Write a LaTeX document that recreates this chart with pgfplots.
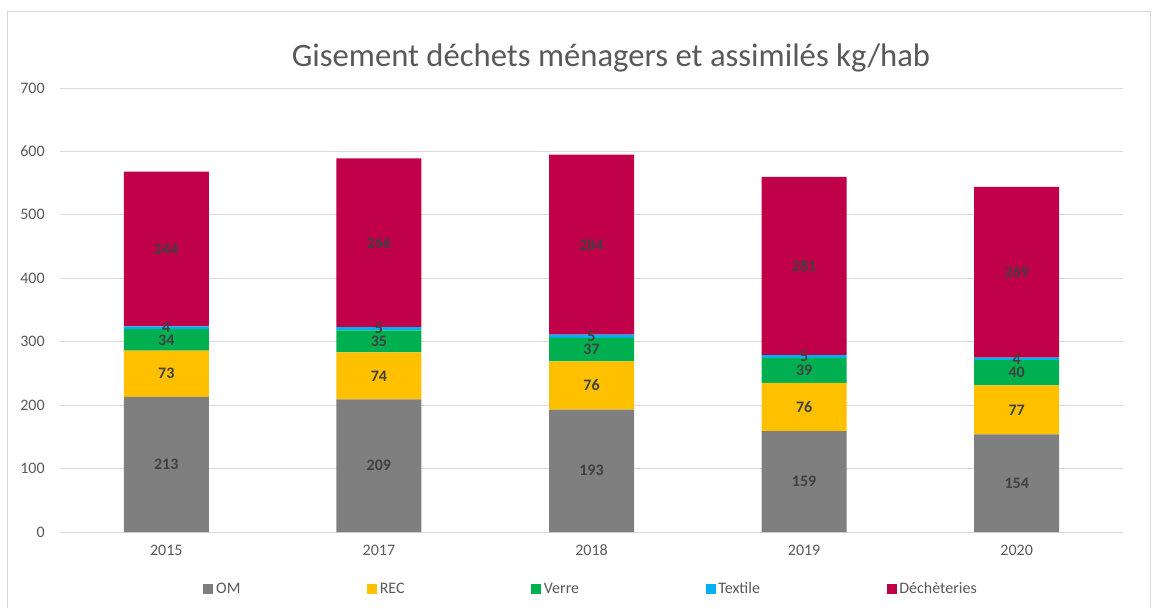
\documentclass[border=0pt]{standalone}
\usepackage{pgfplots}
\usepackage{pgfplotstable}
\pgfplotsset{compat=1.18}
\usepackage{fontspec}
\setmainfont{Carlito}
\definecolor{omgray}{HTML}{7F7F7F}
\definecolor{recyel}{HTML}{FFC000}
\definecolor{verregr}{HTML}{00B050}
\definecolor{textbl}{HTML}{00B0F0}
\definecolor{dechred}{HTML}{C00048}
\definecolor{gridc}{HTML}{D9D9D9}
\definecolor{tickc}{HTML}{595959}
\definecolor{labc}{HTML}{404040}
\pgfplotstableread{
x om rec verre textile dech
0 213 73 34 4 244
1 209 74 35 5 266
2 193 76 37 5 284
3 159 76 39 5 281
4 154 77 40 4 269
}\data
\begin{document}
\begin{tikzpicture}
\begin{axis}[
  width=797.25pt, height=333pt, scale only axis,
  ybar stacked, bar width=63.75pt,
  xmin=-0.5, xmax=4.5, ymin=0, ymax=700,
  xtick={0,1,2,3,4}, xticklabels={2015,2017,2018,2019,2020},
  ytick={0,100,...,700},
  ymajorgrids, major grid style={gridc, line width=0.75pt},
  axis x line*=bottom, axis y line*=left,
  x axis line style={-, gridc, line width=0.75pt},
  y axis line style={-, draw=none},
  tick style={draw=none},
  ticklabel style={font=\fontsize{12}{14}\selectfont, text=tickc},
  /pgf/number format/assume math mode=true,
  yticklabel style={xshift=-8pt},
  xticklabel style={yshift=-6pt},
  point meta=explicit,
  nodes near coords,
  nodes near coords align=center,
  every node near coord/.append style={
    font=\bfseries\fontsize{12}{14}\selectfont, text=labc, anchor=center},
  legend columns=5,
  legend style={draw=none, at={(0.5,-0.1284)}, anchor=center,
    font=\fontsize{12}{14}\selectfont, text=tickc,
    /tikz/every even column/.append style={column sep=93pt}},
  legend cell align=left,
  legend image code/.code={\fill[#1,draw=none] (0pt,-3.75pt) rectangle (7.5pt,3.75pt);},
]
\addplot[fill=omgray, draw=none] table[x=x, y=om, meta=om]{\data};
\addplot[fill=recyel, draw=none] table[x=x, y=rec, meta=rec]{\data};
\addplot[fill=verregr, draw=none] table[x=x, y=verre, meta=verre]{\data};
\addplot[fill=textbl, draw=none] table[x=x, y=textile, meta=textile]{\data};
\addplot[fill=dechred, draw=none] table[x=x, y=dech, meta=dech]{\data};
\legend{OM,REC,Verre,Textile,Déchèteries}
\end{axis}
\draw[gridc, line width=0.75pt] ([shift={(-39pt,-57pt)}]current axis.south west) -- ([shift={(-39pt,57pt)}]current axis.north west) -- ([shift={(20.25pt,57pt)}]current axis.north east) -- ([shift={(20.25pt,-57pt)}]current axis.south east);
\node[font=\fontsize{24.5}{28}\selectfont, text=tickc] at ([shift={(14.6pt,22.5pt)}]current axis.north) {Gisement déchets ménagers et assimilés kg/hab};
\path[use as bounding box] ([shift={(-45pt,-57pt)}]current axis.south west) rectangle ([shift={(26.25pt,66pt)}]current axis.north east);
\end{tikzpicture}
\end{document}
